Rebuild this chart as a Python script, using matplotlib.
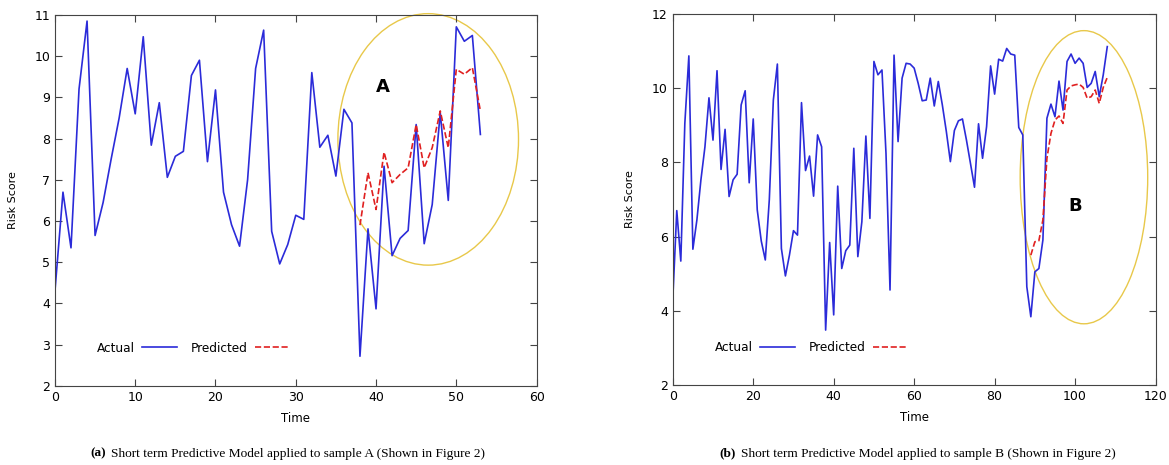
import matplotlib.pyplot as plt
from matplotlib.patches import Ellipse

# Sample A
time_a = list(range(0, 54))
actual_a = [4.3, 6.7, 5.35, 9.2, 10.85, 5.65, 6.45, 7.5, 8.5, 9.7,
            8.6, 10.47, 7.84, 8.87, 7.06, 7.57, 7.69, 9.53, 9.9, 7.44,
            9.18, 6.7, 5.91, 5.39, 7.0, 9.7, 10.63, 5.75, 4.96, 5.43,
            6.14, 6.04, 9.6, 7.79, 8.08, 7.09, 8.71, 8.38, 2.72, 5.81,
            3.87, 7.33, 5.16, 5.58, 5.77, 8.34, 5.45, 6.4, 8.63, 6.5,
            10.71, 10.36, 10.5, 8.1]
time_pred_a = list(range(38, 54))
pred_a = [5.9, 7.17, 6.28, 7.67, 6.93, 7.13, 7.29, 8.34, 7.29, 7.78,
          8.67, 7.78, 9.68, 9.56, 9.72, 8.67]

# Sample B
time_b = list(range(0, 109))
actual_b = [4.3, 6.7, 5.34, 9.05, 10.87, 5.66, 6.45, 7.53, 8.42, 9.74,
            8.6, 10.47, 7.81, 8.89, 7.08, 7.53, 7.68, 9.55, 9.93, 7.45,
            9.17, 6.72, 5.88, 5.37, 7.0, 9.68, 10.65, 5.68, 4.94, 5.5,
            6.16, 6.04, 9.61, 7.78, 8.17, 7.09, 8.74, 8.42, 3.48, 5.84,
            3.89, 7.36, 5.14, 5.62, 5.77, 8.38, 5.46, 6.4, 8.71, 6.49,
            10.72, 10.36, 10.49, 8.24, 4.56, 10.89, 8.56, 10.27, 10.67, 10.65,
            10.54, 10.13, 9.66, 9.68, 10.27, 9.52, 10.18, 9.55, 8.83, 8.02,
            8.86, 9.12, 9.17, 8.6, 7.97, 7.33, 9.04, 8.11, 8.96, 10.6,
            9.84, 10.78, 10.73, 11.07, 10.92, 10.89, 8.94, 8.74, 4.65, 3.84,
            5.05, 5.14, 5.91, 9.19, 9.57, 9.23, 10.19, 9.41, 10.72, 10.92,
            10.67, 10.81, 10.67, 10.02, 10.13, 10.45, 9.77, 10.36, 11.12]
time_pred_b = list(range(89, 109))
pred_b = [5.5, 5.86, 5.89, 6.45, 8.11, 8.78, 9.14, 9.25, 9.05, 9.95,
          10.06, 10.09, 10.11, 10.02, 9.73, 9.77, 9.95, 9.59, 10.02, 10.29]

fig = plt.figure(figsize=(11.69, 4.65), dpi=100)
ax1 = fig.add_axes([0.047, 0.170, 0.412, 0.798])
ax2 = fig.add_axes([0.5755, 0.172, 0.413, 0.798])

blue = '#2b2bd9'
red = '#e02020'
yellow = '#e8c84a'


def draw(ax, t, y, tp, yp, xlim, ylim, yticks, ell, letter):
    ax.plot(t, y, color=blue, lw=1.2, label='Actual')
    ax.plot(tp, yp, color=red, lw=1.2, ls='--', label='Predicted')
    ax.set_xlim(*xlim)
    ax.set_ylim(*ylim)
    ax.set_yticks(yticks)
    ax.tick_params(direction='in', top=True, right=True, labelsize=9,
                   color='#444444', length=5)
    for s in ax.spines.values():
        s.set_color('#444444')
    ax.set_xlabel('Time', fontsize=8.5, labelpad=6)
    ax.set_ylabel('Risk Score', fontsize=8, labelpad=12)
    ax.add_patch(Ellipse(ell[0], ell[1], ell[2], fill=False,
                         edgecolor=yellow, lw=1.0, clip_on=False))
    ax.text(letter[0], letter[1], letter[2], fontsize=13, fontweight='bold',
            ha='center', va='center')
    ax.legend(loc='lower left', bbox_to_anchor=(0.065, 0.055), ncol=2,
              frameon=False, markerfirst=False, fontsize=8.7,
              handlelength=2.9, columnspacing=1.1, handletextpad=0.6)


draw(ax1, time_a, actual_a, time_pred_a, pred_a, (0, 60), (2, 11),
     range(2, 12), ((46.5, 7.98), 22.5, 6.1), (40.8, 9.26, 'A'))
draw(ax2, time_b, actual_b, time_pred_b, pred_b, (0, 120), (2, 12),
     range(2, 13, 2), ((102.2, 7.6), 31.7, 7.9), (100.1, 6.83, 'B'))

cap_font = 'Liberation Serif'
fig.text(90 / 1169, 0.018, '(a)', fontsize=9.6, fontweight='bold', family=cap_font)
fig.text(111 / 1169, 0.018, 'Short term Predictive Model applied to sample A (Shown in Figure 2)',
         fontsize=9.6, family=cap_font)
fig.text(719 / 1169, 0.018, '(b)', fontsize=9.6, fontweight='bold', family=cap_font)
fig.text(741 / 1169, 0.018, 'Short term Predictive Model applied to sample B (Shown in Figure 2)',
         fontsize=9.6, family=cap_font)

fig.savefig('out.png', dpi=100)
